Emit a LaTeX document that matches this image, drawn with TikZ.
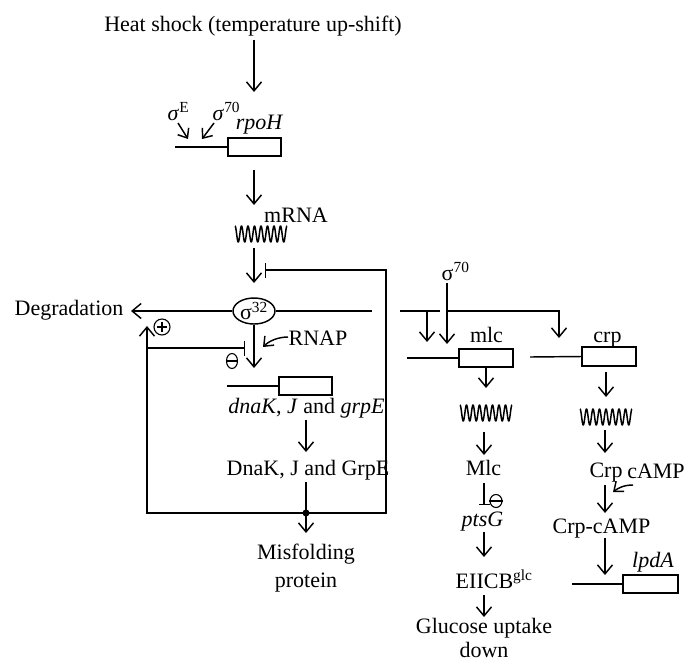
\documentclass[tikz,border=0pt]{standalone}
\usepackage{fontspec}
\setmainfont{Liberation Serif}
\usetikzlibrary{arrows.meta,shapes.geometric}
\tikzset{
  lbl/.style={inner sep=0pt, anchor=base},
  ar/.style={-{Straight Barb[length=9pt,width=15pt]}},
  sar/.style={-{Straight Barb[length=8pt,width=13pt]}},
  inh/.style={-{Bar[width=15pt]}},
  sinh/.style={-{Bar[width=11pt]}},
  gene/.style={draw, minimum width=53pt, minimum height=18pt, inner sep=0pt},
  sqnode/.style={minimum width=54pt, minimum height=18pt, inner sep=0pt},
  signode/.style={circle, draw, line width=1.1pt, minimum size=16pt, inner sep=0pt},
  minode/.style={ellipse, draw, line width=1.1pt, minimum width=11pt, minimum height=15pt, inner sep=0pt},
  squig/.pic={\draw[line width=1.5pt, line join=round] plot[domain=-26:26,samples=240,smooth] (\x,{-8*cos(\x*360/6.5)});}
}
\begin{document}
\begin{tikzpicture}[x=1pt,y=-1pt,line width=1.45pt,font=\fontsize{22}{28}\selectfont]
\useasboundingbox (0,0) rectangle (700,670);

% ---------- rpoH ----------
\node[lbl] (heat) at (253,31) {Heat shock (temperature up-shift)};
\coordinate (h1) at (254,40);
\coordinate (h2) at (254,92);
\draw[ar] (h1) -- (h2);
\node[lbl,anchor=base west] (sigE) at (167,120) {\textit{σ}\textsuperscript{E}};
\node[lbl,anchor=base west] (sig70a) at (212,120) {\textit{σ}\textsuperscript{70}};
\coordinate (e1) at (178,123); \coordinate (e2) at (188,139);
\coordinate (f1) at (214,123); \coordinate (f2) at (202,139);
\draw[sar] (e1) -- (e2);
\draw[sar] (f1) -- (f2);
\node[lbl] (rpoH) at (259.5,129) {\textit{rpoH}};
\node[gene] (rpoHbox) at (254.5,147) {};
\coordinate (rpoHl) at (175,147);
\draw (rpoHl) -- (rpoHbox.west);
\coordinate (r1) at (254,170); \coordinate (r2) at (254,205);
\draw[ar] (r1) -- (r2);
\node[lbl] (mrna) at (296,222) {mRNA};
\path (261,234) pic {squig} node[sqnode] (sq1) {};
\coordinate (m1) at (254,248); \coordinate (m2) at (254,283);
\draw[ar] (m1) -- (m2);

% ---------- sigma32 ----------
\node[ellipse, draw, minimum width=42pt, minimum height=26pt, inner sep=0pt] (s32) at (254,311) {σ\textsuperscript{32}};
\node[lbl] (deg) at (69,315) {Degradation};
\coordinate (degtip) at (131,311);
\draw[ar] (s32.west) -- (degtip);
\coordinate (gapL) at (372,311);
\draw (s32.east) -- (gapL);
\node[lbl] (rnap) at (318,345) {RNAP};
\coordinate (rn1) at (288,337); \coordinate (rn2) at (263,347);
\draw[sar] (rn1) .. controls (278,337) and (269,341) .. (rn2);
\coordinate (s32d) at (254,368);
\draw[ar] (s32.south) -- (s32d);

% ---------- dnaK ----------
\node[gene] (dnabox) at (305.5,386) {};
\coordinate (dnal) at (227,386);
\draw (dnal) -- (dnabox.west);
\node[lbl] (dnak) at (306.5,413) {\textit{dnaK}, \textit{J} and \textit{grpE}};
\coordinate (d1) at (306,420); \coordinate (d2) at (306,452);
\draw[ar] (d1) -- (d2);
\node[lbl] (DnaK) at (308,475) {DnaK, J and GrpE};
\coordinate (d3) at (306,482);
\coordinate (dot) at (306,513);
\draw (d3) -- (dot);
\fill (dot) circle (3.5pt);
\coordinate (d4) at (306,533);
\draw[ar] (dot) -- (d4);
\node[lbl] (misf) at (306,559) {Misfolding};
\node[lbl] (prot) at (306,587) {protein};

% feedback loops
\coordinate (bl) at (147,513);
\coordinate (br) at (386,513);
\coordinate (tr) at (386,270);
\coordinate (bar1) at (265,270);
\draw[inh] (dot) -- (br) -- (tr) -- (bar1);
\coordinate (lt) at (147,326);
\draw[ar] (dot) -- (bl) -- (lt);
\coordinate (lb) at (147,348);
\coordinate (bar2) at (245,348);
\draw[inh] (lb) -- (bar2);
\node[signode] (plus) at (162,327) {};
\draw[line width=1.1pt] ([xshift=-5pt]plus.center) -- ([xshift=5pt]plus.center)
  ([yshift=-5pt]plus.center) -- ([yshift=5pt]plus.center);
\node[minode] (minus1) at (232,361) {};
\draw[line width=1.1pt] (minus1.west) -- (minus1.east);

% ---------- right branch ----------
\coordinate (g1) at (400,311); \coordinate (g2) at (440,311);
\draw (g1) -- (g2);
\coordinate (a1) at (427,311); \coordinate (a2) at (427,342);
\draw[ar] (a1) -- (a2);
\node[lbl,anchor=base west] (sig70b) at (441,280) {σ\textsuperscript{70}};
\coordinate (b1) at (447,283); \coordinate (b2) at (447,344);
\draw[ar] (b1) -- (b2);
\coordinate (b3) at (447,311); \coordinate (b4) at (559,311); \coordinate (b5) at (559,338);
\draw[ar] (b3) -- (b4) -- (b5);

% mlc column
\node[lbl] (mlc) at (486.5,342) {mlc};
\node[gene, minimum width=54pt] (mlcbox) at (486,358) {};
\coordinate (mlcl) at (407,358);
\draw (mlcl) -- (mlcbox.west);
\coordinate (ml1) at (486,388);
\draw[ar] (mlcbox.south) -- (ml1);
\path (486,413) pic {squig} node[sqnode] (sq2) {};
\coordinate (ml2) at (484,432); \coordinate (ml3) at (484,455);
\draw[ar] (ml2) -- (ml3);
\node[lbl] (Mlc) at (483.5,475) {Mlc};
\coordinate (ml4) at (484,483); \coordinate (ml5) at (484,505);
\draw[sinh] (ml4) -- (ml5);
\node[minode, minimum width=12pt, minimum height=13pt] (minus2) at (496,501) {};
\draw[line width=1.1pt] (minus2.west) -- (minus2.east);
\node[lbl] (ptsG) at (482.5,526) {\textit{ptsG}};
\coordinate (ml6) at (484,532); \coordinate (ml7) at (484,557);
\draw[ar] (ml6) -- (ml7);
\node[lbl,anchor=base west] (eiicb) at (455,588) {EIICB\textsuperscript{glc}};
\coordinate (ml8) at (484,595); \coordinate (ml9) at (484,617);
\draw[ar] (ml8) -- (ml9);
\node[lbl] (gluc) at (484,633) {Glucose uptake};
\node[lbl] (down) at (484,657) {down};

% crp column
\node[lbl] (crp) at (607.5,342) {crp};
\node[gene, minimum width=54pt, minimum height=19pt] (crpbox) at (609,356.5) {};
\coordinate (crpl) at (530,357);
\draw (crpl) -- (crpbox.west);
\coordinate (cr1) at (606,372); \coordinate (cr2) at (606,397);
\draw[ar] (cr1) -- (cr2);
\path (606,417) pic {squig} node[sqnode] (sq3) {};
\coordinate (cr3) at (605,430); \coordinate (cr4) at (605,453);
\draw[ar] (cr3) -- (cr4);
\node[lbl] (Crp) at (606,477) {Crp};
\node[lbl] (camp) at (656,478) {cAMP};
\coordinate (cm1) at (633,485); \coordinate (cm2) at (613,492);
\draw[sar] (cm1) .. controls (624,485) and (618,488) .. (cm2);
\coordinate (cr5) at (605,485); \coordinate (cr6) at (605,513);
\draw[ar] (cr5) -- (cr6);
\node[lbl] (crpcamp) at (601.5,533) {Crp-cAMP};
\coordinate (cr7) at (605,538); \coordinate (cr8) at (605,575);
\draw[ar] (cr7) -- (cr8);
\node[lbl] (lpdA) at (653,567) {\textit{lpdA}};
\node[gene, minimum width=55pt] (lpdbox) at (650.5,584) {};
\coordinate (lpdl) at (572,584);
\draw (lpdl) -- (lpdbox.west);
\end{tikzpicture}
\end{document}
